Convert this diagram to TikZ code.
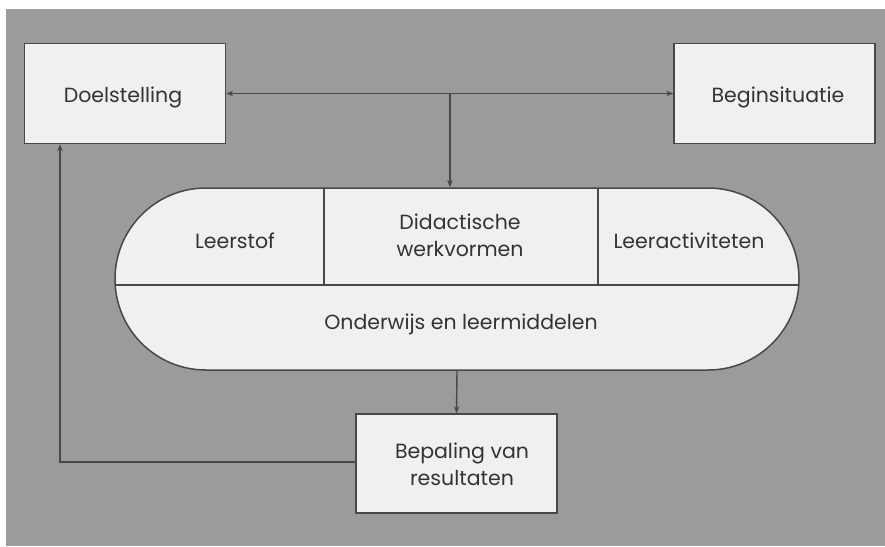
\documentclass[tikz,border=0pt]{standalone}
\usepackage{fontspec}
\setmainfont{Poppins}
\usetikzlibrary{arrows.meta}
\definecolor{bgray}{HTML}{9B9B9B}
\definecolor{boxfill}{HTML}{F0F0F0}
\definecolor{edge}{HTML}{484848}
\definecolor{txt}{HTML}{333333}
\tikzset{
  box/.style={draw=edge, line width=1.5pt, fill=boxfill, minimum width=201pt, minimum height=100pt, inner sep=0pt},
  lab/.style={text=txt, font=\fontsize{20.5}{27}\selectfont, align=center, inner sep=0pt},
  conn/.style={draw=edge, line width=1.4pt},
  arr/.style={conn, -{Stealth[length=7pt,width=5.5pt]}},
  darr/.style={conn, {Stealth[length=7pt,width=5.5pt]}-{Stealth[length=7pt,width=5.5pt]}},
}
\begin{document}
\begin{tikzpicture}[x=1pt,y=-1pt]
\useasboundingbox (0,0) rectangle (885,546);
\fill[white] (0,0) rectangle (885,546);
\fill[bgray] (6,9) rectangle (885,546);

\node[box] (doel) at (125,93.5) {};
\node[lab] at (123,97) {Doelstelling};
\node[box] (begin) at (774.5,93.5) {};
\node[lab] at (778,97) {Beginsituatie};

\node[draw=edge, line width=1.5pt, fill=boxfill, rounded corners=91pt, minimum width=684pt, minimum height=182pt, inner sep=0pt] (pill) at (457,279) {};
\draw[conn] (115.2,285) -- (798.8,285);
\draw[conn] (324,188) -- (324,285);
\draw[conn] (598,188) -- (598,285);
\node[lab] (l1) at (235,241) {Leerstof};
\node[lab] (l2) at (460,235) {Didactische\\werkvormen};
\node[lab] (l3) at (689,241) {Leeractiviteten};
\node[lab] (l4) at (461,324) {Onderwijs en leermiddelen};

\node[box, minimum height=99pt] (bep) at (456.5,463.5) {};
\node[lab] at (462,464) {Bepaling van\\resultaten};

\draw[darr] (doel.east) -- (begin.west);
\coordinate (j) at (450,93.5);
\draw[arr] (j) -- (j |- pill.north);
\draw[arr] (pill.south) -- (bep.north);
\coordinate (fb) at (60,462);
\draw[arr] (bep.west |- fb) -- (fb) -- (fb |- doel.south);
\end{tikzpicture}
\end{document}
